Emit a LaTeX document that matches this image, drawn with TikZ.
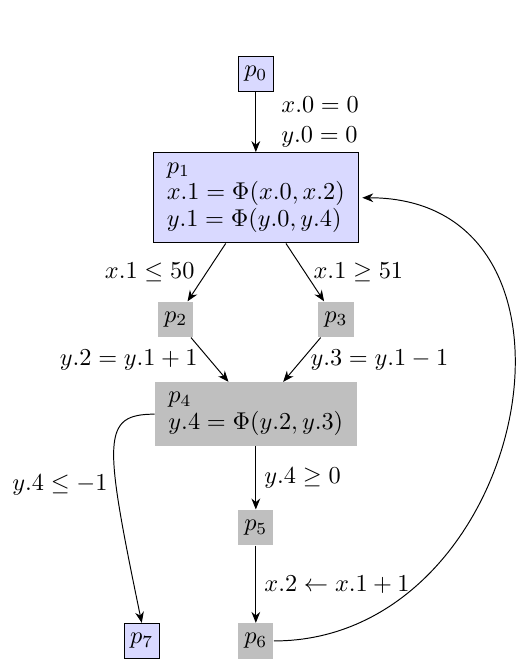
\documentclass[tikz,border=0pt]{standalone}
\usetikzlibrary{arrows.meta}
\begin{document}
\begin{tikzpicture}[
        >={Stealth[length=4.5pt,width=3.6pt]},
        bbox/.style={draw=black, fill=colB, minimum size=14.5pt, inner sep=1pt},
        gbox/.style={fill=colG, minimum size=14.5pt, inner sep=1pt},
        wide/.style={align=left, inner xsep=5.5pt, inner ysep=4.2pt,
            font=\fontsize{10}{11}\selectfont}
    ]
    \colorlet{colB}{blue!15}
    \colorlet{colG}{black!25}

    \useasboundingbox (0,0) rectangle (7.51,-9.56);

    % Blocks
    \node[bbox] (p0) at (3.7,-1.07) {$p_0$};
    \node[bbox, wide] (p1) at (3.7,-2.86) {$p_1$\\ $x.1 = \Phi(x.0, x.2)$\\ $y.1 = \Phi(y.0, y.4)$};
    \node[gbox] (p2) at (2.54,-4.62) {$p_2$};
    \node[gbox] (p3) at (4.86,-4.62) {$p_3$};
    \node[gbox, wide] (p4) at (3.7,-5.99) {$p_4$\\ $y.4 = \Phi(y.2, y.3)$};
    \node[gbox] (p5) at (3.7,-7.63) {$p_5$};
    \node[gbox] (p6) at (3.7,-9.27) {$p_6$};
    \node[bbox] (p7) at (2.05,-9.27) {$p_7$};

    % Edges
    \draw[->] (p0) -- node[right, align=left, xshift=7pt] {$x.0 = 0$\\ $y.0 = 0$} (p1);
    \draw[->] (p1) -- node[left, xshift=-1.5pt] {$x.1 \le 50$} (p2);
    \draw[->] (p1) -- node[right] {$x.1 \ge 51$} (p3);
    \draw[->] (p2) -- node[left, xshift=-1.5pt] {$y.2 = y.1 + 1$} (p4);
    \draw[->] (p3) -- node[right] {$y.3 = y.1 - 1$} (p4);
    \draw[->] (p4) -- node[right] {$y.4 \ge 0$} (p5);
    \draw[->] (p5) -- node[right] {$x.2 \leftarrow x.1 + 1$} (p6);

    % Exit and loop back
    \draw[->] (p4.west) .. controls +(-0.77,0) and +(-0.55,2.66) .. (p7.north)
        node[pos=0.66, left] {$y.4 \le -1$};
    \draw[->, shorten >=1.5pt] (p6.east) to[out=0, in=0, looseness=1.45] (p1.east);
\end{tikzpicture}
\end{document}
